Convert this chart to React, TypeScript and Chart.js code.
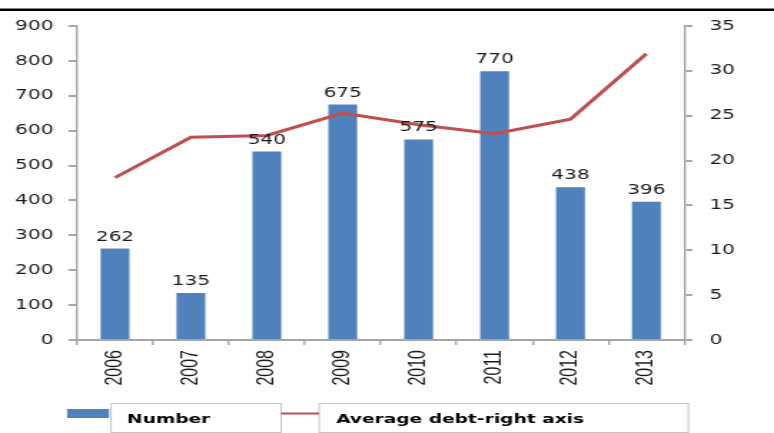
import React, { useEffect, useRef } from "react";
import { Chart, registerables } from "chart.js";

Chart.register(...registerables);

// ---- data ----
const years = ["2006", "2007", "2008", "2009", "2010", "2011", "2012", "2013"];
const numberValues = [262, 135, 540, 675, 575, 770, 438, 396];
const averageDebt = [18.1, 22.6, 22.8, 25.3, 24.0, 23.0, 24.6, 31.9];
const leftAxis = { min: 0, max: 900, step: 100 };
const rightAxis = { min: 0, max: 35, step: 5 };
const legendLabels = ["Number", "Average debt-right axis"];

// the reference is horizontally stretched; draw narrow and stretch with CSS
const SX = 1.43;
const OUT_W = 774;
const OUT_H = 433;
const W = Math.round(OUT_W / SX);
const X = (px: number) => px / SX; // output px -> internal px

const BLUE = "#4F81BD";
const RED = "#C0504D";
const AXIS = "#a6a6a6";
const TEXT = "#1a1a1a";
const DV = "'DejaVu Sans', Verdana, sans-serif";

const decorPlugin = {
  id: "decor",
  afterDatasetsDraw(chart: any) {
    const ctx = chart.ctx;
    const meta = chart.getDatasetMeta(0);
    ctx.save();
    ctx.font = `14px ${DV}`;
    ctx.fillStyle = TEXT;
    ctx.textAlign = "center";
    ctx.textBaseline = "alphabetic";
    meta.data.forEach((bar: any, i: number) => {
      ctx.fillText(String(chart.data.datasets[0].data[i]), bar.x, bar.y - 8);
    });
    ctx.restore();
  },
  afterDraw(chart: any) {
    const ctx = chart.ctx;
    ctx.save();
    // top rule
    ctx.fillStyle = "#000";
    ctx.fillRect(0, 8.5, chart.width, 2.5);

    // legend
    const top = 403;
    const h = 29;
    ctx.fillStyle = BLUE;
    ctx.fillRect(X(67), 409, X(109) - X(67), 9);

    ctx.strokeStyle = "#c4c4c4";
    ctx.lineWidth = 1;
    ctx.strokeRect(X(111), top + 0.5, X(281) - X(111), h);
    ctx.strokeRect(X(319), top + 0.5, X(688) - X(319), h);

    ctx.strokeStyle = RED;
    ctx.lineWidth = 2;
    ctx.beginPath();
    ctx.moveTo(X(281), 413.5);
    ctx.lineTo(X(319), 413.5);
    ctx.stroke();

    ctx.fillStyle = "#000";
    ctx.font = `bold 13px ${DV}`;
    ctx.textAlign = "left";
    ctx.textBaseline = "alphabetic";
    ctx.fillText(legendLabels[0], X(127), 423);
    ctx.fillText(legendLabels[1], X(336), 423);
    ctx.restore();
  },
};

export default function App() {
  const ref = useRef<HTMLCanvasElement | null>(null);

  useEffect(() => {
    document.body.style.margin = "0";
    const canvas = ref.current;
    if (!canvas) return;
    const chart = new Chart(canvas, {
      type: "bar",
      data: {
        labels: years,
        datasets: [
          {
            type: "bar",
            label: legendLabels[0],
            data: numberValues,
            backgroundColor: BLUE,
            borderWidth: 0,
            categoryPercentage: 1,
            barPercentage: 0.38,
            yAxisID: "y",
            order: 2,
          },
          {
            type: "line",
            label: legendLabels[1],
            data: averageDebt,
            borderColor: RED,
            borderWidth: 3,
            pointRadius: 0,
            tension: 0,
            fill: false,
            yAxisID: "y1",
            order: 1,
          },
        ],
      },
      options: {
        responsive: false,
        animation: false,
        devicePixelRatio: 1,
        layout: { padding: { top: 26, left: 0, right: 0, bottom: 0 } },
        plugins: {
          legend: { display: false },
          tooltip: { enabled: false },
        },
        scales: {
          x: {
            offset: true,
            grid: {
              offset: true,
              drawOnChartArea: false,
              drawTicks: true,
              tickLength: 5,
              color: AXIS,
              lineWidth: 1.4,
            },
            border: { color: AXIS, width: 2 },
            ticks: {
              minRotation: 90,
              maxRotation: 90,
              padding: 5,
              color: TEXT,
              font: { family: "'Liberation Sans', Arial, sans-serif", size: 16 },
            },
            afterFit(scale: any) {
              scale.height = OUT_H - 340;
            },
          },
          y: {
            position: "left",
            min: leftAxis.min,
            max: leftAxis.max,
            grid: {
              drawOnChartArea: false,
              drawTicks: true,
              tickLength: 6,
              color: AXIS,
              lineWidth: 2,
            },
            border: { color: AXIS, width: 1.4 },
            ticks: {
              stepSize: leftAxis.step,
              padding: 10.5,
              color: TEXT,
              font: { family: DV, size: 14 },
            },
            afterFit(scale: any) {
              scale.width = X(77);
            },
          },
          y1: {
            position: "right",
            min: rightAxis.min,
            max: rightAxis.max,
            grid: {
              drawOnChartArea: false,
              drawTicks: true,
              tickLength: 5.6,
              color: AXIS,
              lineWidth: 2,
            },
            border: { color: AXIS, width: 1.4 },
            ticks: {
              stepSize: rightAxis.step,
              padding: 12,
              color: TEXT,
              font: { family: DV, size: 14 },
            },
            afterFit(scale: any) {
              scale.width = W - X(684);
            },
          },
        },
      },
      plugins: [decorPlugin],
    });
    return () => chart.destroy();
  }, []);

  return (
    <canvas
      ref={ref}
      width={W}
      height={OUT_H}
      style={{ width: `${OUT_W}px`, height: `${OUT_H}px`, display: "block" }}
    />
  );
}
